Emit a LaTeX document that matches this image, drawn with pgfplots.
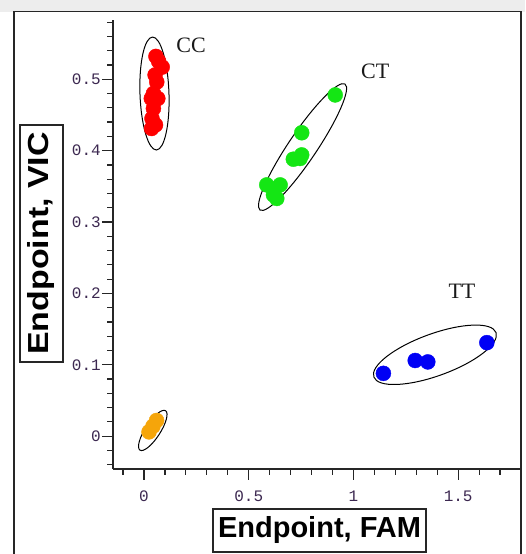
\documentclass[border=0pt]{standalone}
\usepackage{fontspec}
\setmainfont{Liberation Serif}
\newfontfamily\sansb{Liberation Sans}
\newfontfamily\monof{Liberation Mono}
\usepackage{graphicx}
\usepackage{pgfplots}
\pgfplotsset{compat=1.18}
\definecolor{ptred}{RGB}{255,0,0}
\definecolor{ptgreen}{RGB}{20,230,20}
\definecolor{ptblue}{RGB}{0,0,245}
\definecolor{ptorange}{RGB}{245,165,10}
\definecolor{ticktext}{RGB}{60,40,80}
\begin{document}
\begin{tikzpicture}[x=1pt,y=1pt]
\useasboundingbox (0,0) rectangle (525,554);
\fill[black!7] (0,542) rectangle (525,554);
\draw[line width=1.5pt, black!85] (14,0) -- (14,542.5) -- (521,542.5) -- (521,0);
\begin{axis}[
  at={(113pt,85pt)}, anchor=south west,
  scale only axis, width=408pt, height=449pt,
  xmin=-0.148, xmax=1.8, ymin=-0.046, ymax=0.583,
  axis x line*=bottom, axis y line*=left,
  axis line style={line width=1.5pt, black!85, -},
  tick align=outside,
  major tick length=11pt, minor tick length=6pt,
  every tick/.style={line width=1.2pt, black!85},
  xtick={0,0.5,1,1.5},
  minor xtick={-0.1,0.1,0.2,0.3,0.4,0.6,0.7,0.8,0.9,1.1,1.2,1.3,1.4,1.6,1.7,1.8},
  ytick={0,0.1,0.2,0.3,0.4,0.5},
  minor ytick={-0.04,-0.02,0.02,0.04,0.06,0.08,0.12,0.14,0.16,0.18,0.22,0.24,0.26,0.28,0.32,0.34,0.36,0.38,0.42,0.44,0.46,0.48,0.52,0.54,0.56,0.58},
  tick label style={font=\monof\fontsize{16}{16}\selectfont, text=ticktext},
  yticklabel style={inner sep=1pt},
  xticklabel style={yshift=-7pt},
  /pgf/number format/assume math mode=true,
  clip=false,
]
\addplot[only marks, mark=*, mark size=7.5pt, color=ptred, mark options={fill=ptred, draw=ptred}] coordinates {
(0.057,0.532) (0.070,0.525) (0.087,0.517) (0.053,0.506) (0.061,0.496) (0.045,0.480)
(0.035,0.473) (0.066,0.473) (0.045,0.459) (0.038,0.445) (0.036,0.431) (0.055,0.436)};
\addplot[only marks, mark=*, mark size=7.5pt, color=ptgreen, mark options={fill=ptgreen, draw=ptgreen}] coordinates {
(0.913,0.478) (0.753,0.425) (0.745,0.389) (0.713,0.388) (0.753,0.394)
(0.586,0.352) (0.650,0.352) (0.618,0.338) (0.634,0.333)};
\addplot[only marks, mark=*, mark size=7.5pt, color=ptblue, mark options={fill=ptblue, draw=ptblue}] coordinates {
(1.143,0.088) (1.295,0.106) (1.355,0.104) (1.637,0.131)};
\addplot[only marks, mark=*, mark size=7.5pt, color=ptorange, mark options={fill=ptorange, draw=ptorange}] coordinates {
(0.024,0.006) (0.043,0.014) (0.060,0.022)};
\draw[line width=1pt, rotate around={2:(axis cs:0.05,0.48)}] (axis cs:0.05,0.48) ellipse [x radius=14.5pt, y radius=56.5pt];
\draw[line width=1pt, rotate around={56:(axis cs:0.757,0.405)}] (axis cs:0.757,0.405) ellipse [x radius=76pt, y radius=14pt];
\draw[line width=1pt, rotate around={20:(axis cs:1.389,0.114)}] (axis cs:1.389,0.114) ellipse [x radius=65pt, y radius=21pt];
\draw[line width=1pt, rotate around={57:(axis cs:0.042,0.008)}] (axis cs:0.042,0.008) ellipse [x radius=23.5pt, y radius=7.5pt];
\node[font=\fontsize{22}{22}\selectfont, text=black!90] at (axis cs:0.225,0.547) {CC};
\node[font=\fontsize{22}{22}\selectfont, text=black!90] at (axis cs:1.104,0.511) {CT};
\node[font=\fontsize{22}{22}\selectfont, text=black!90] at (axis cs:1.518,0.203) {TT};
\end{axis}
\node[draw=black!85, line width=1.3pt, minimum width=213pt, minimum height=43pt, inner sep=0pt,
  font=\sansb\bfseries\fontsize{29}{29}\selectfont] at (319.5,23.5) {Endpoint, FAM};
\node[draw=black!85, line width=1.3pt, minimum width=237pt, minimum height=43pt, inner sep=0pt, rotate=90,
  font=\sansb\bfseries\fontsize{29}{29}\selectfont] at (41.5,310.5) {\scalebox{1.17}[1]{Endpoint, VIC}};
\end{tikzpicture}
\end{document}
